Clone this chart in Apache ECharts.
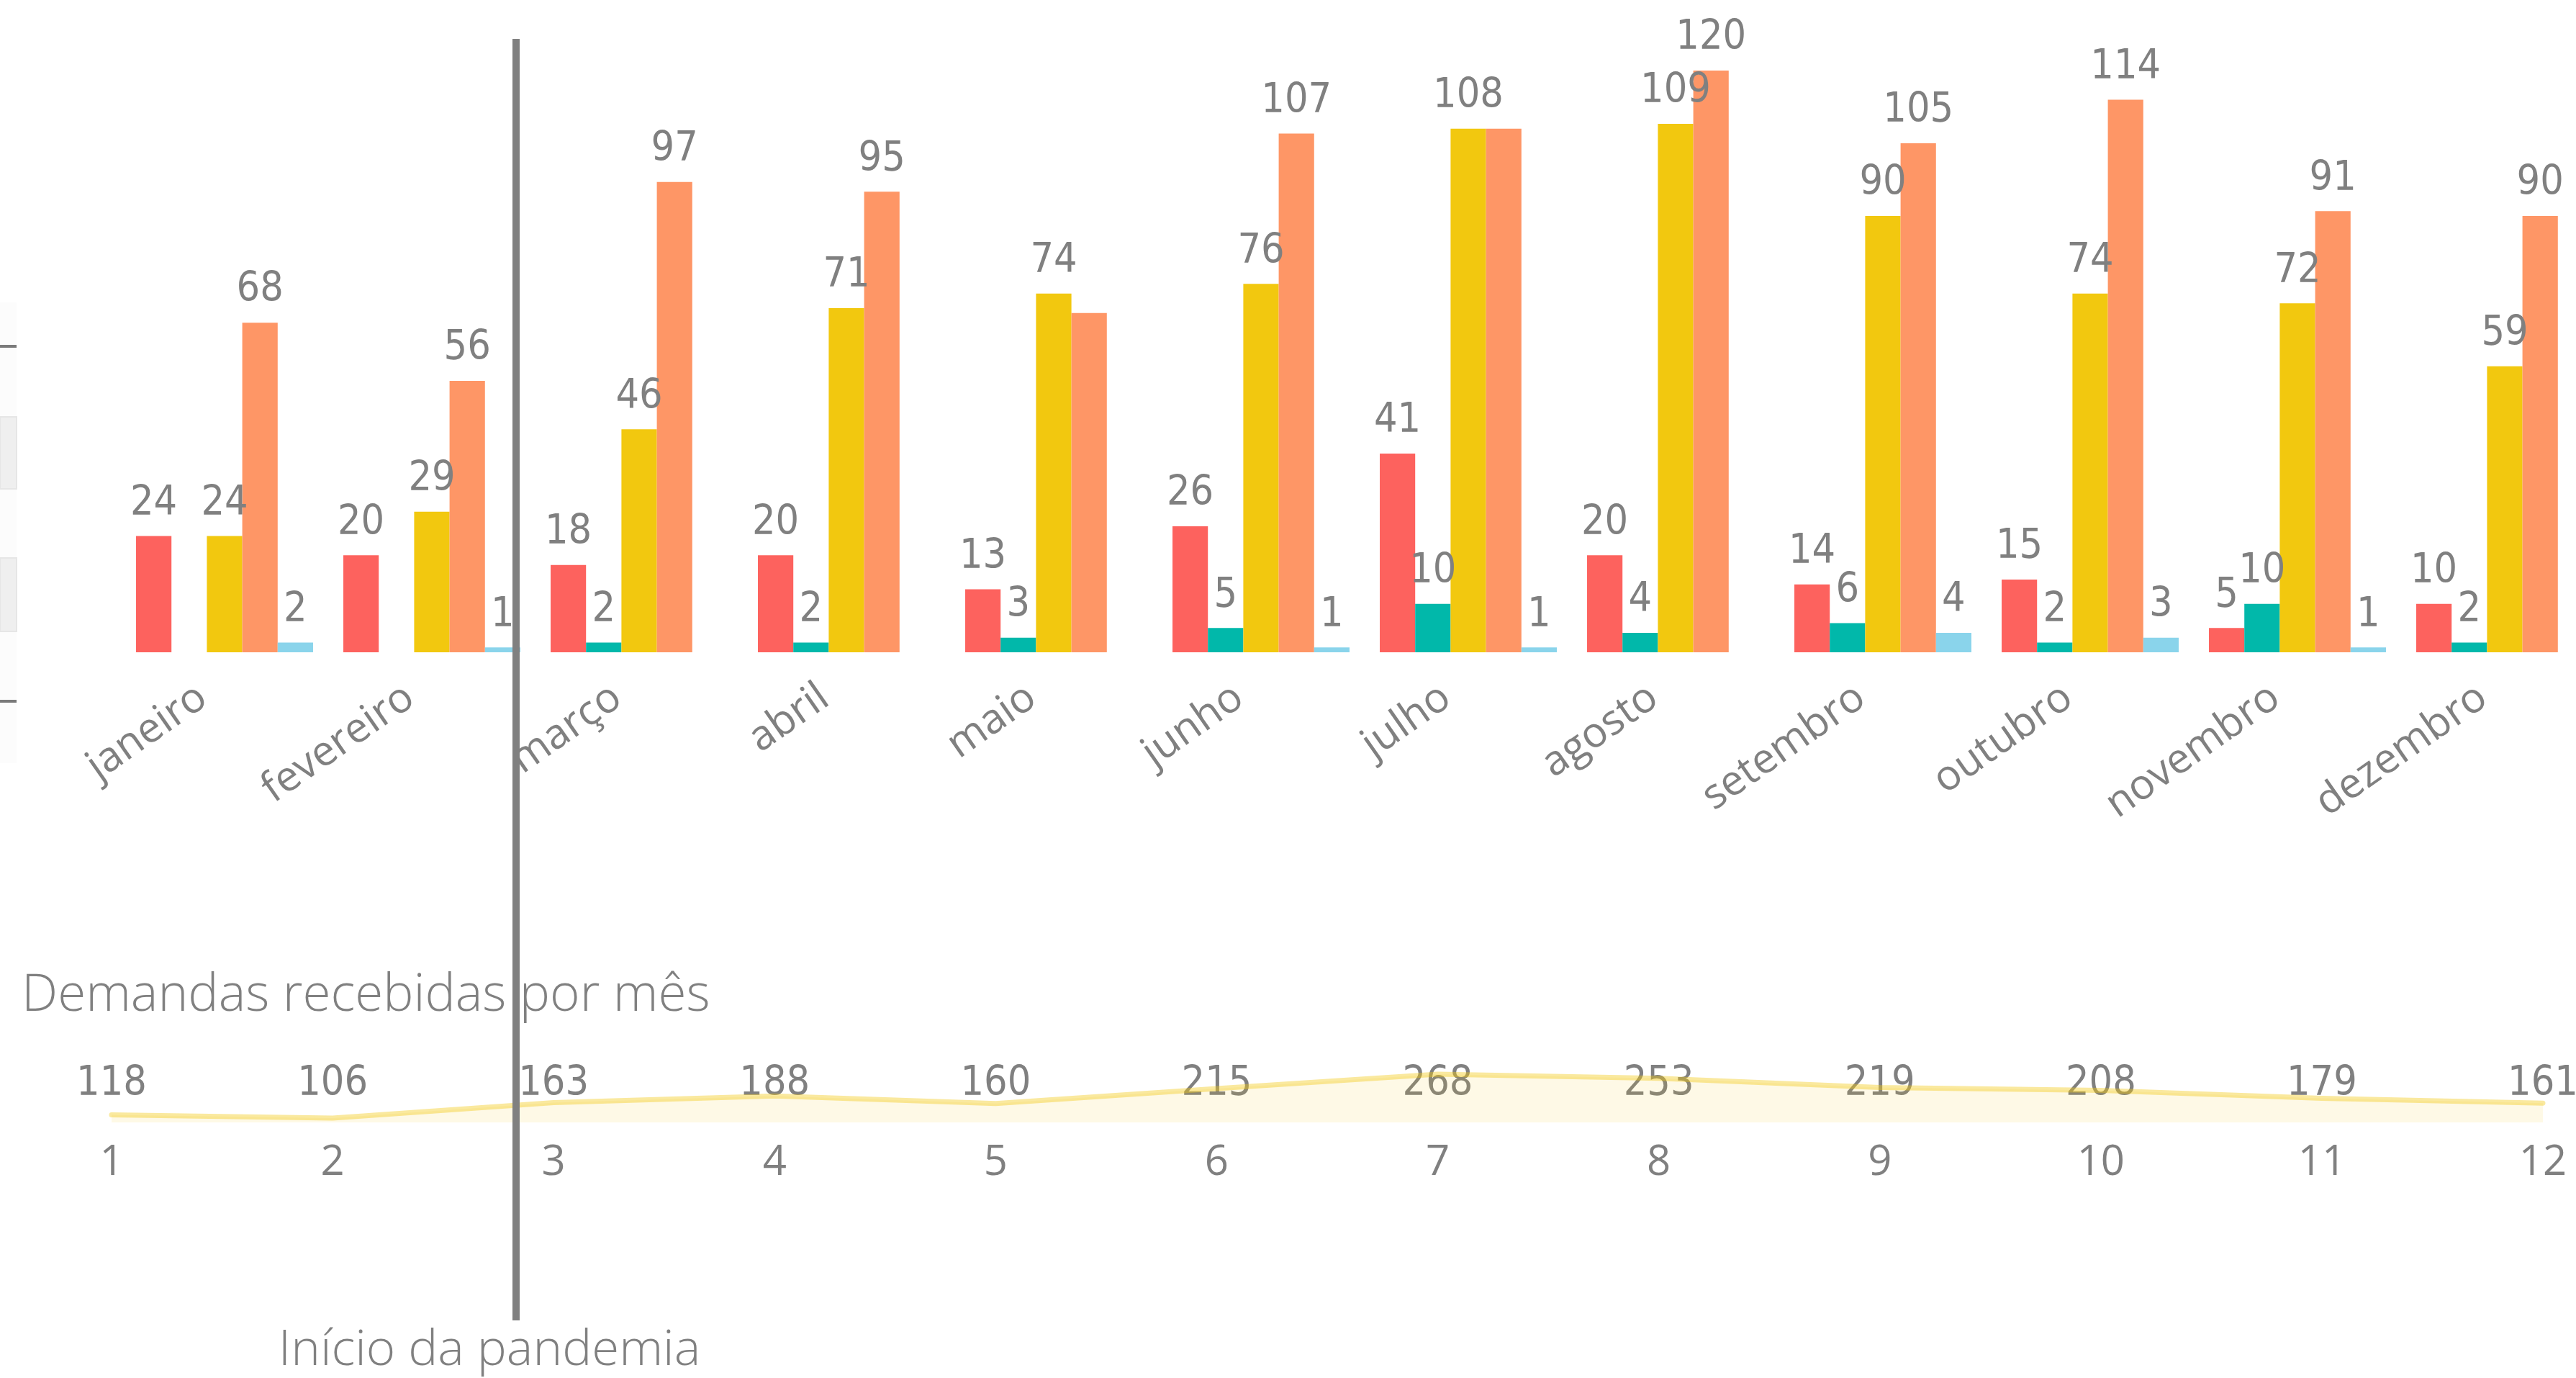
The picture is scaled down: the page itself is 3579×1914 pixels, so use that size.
<!DOCTYPE html>
<html>
<head>
<meta charset="utf-8">
<script src="https://cdn.jsdelivr.net/npm/echarts@6/dist/echarts.min.js"></script>
<style>
html, body { margin: 0; padding: 0; background: #ffffff; }
#chart { width: 3579px; height: 1914px; }
</style>
</head>
<body>
<div id="chart"></div>
<script>
// ---- data ----
const months = ['janeiro', 'fevereiro', 'março', 'abril', 'maio', 'junho', 'julho', 'agosto', 'setembro', 'outubro', 'novembro', 'dezembro'];
const monthNumbers = ['1', '2', '3', '4', '5', '6', '7', '8', '9', '10', '11', '12'];
const seriesRed = [24, 20, 18, 20, 13, 26, 41, 20, 14, 15, 5, 10];
const seriesTeal = [null, null, 2, 2, 3, 5, 10, 4, 6, 2, 10, 2];
const seriesYellow = [24, 29, 46, 71, 74, 76, 108, 109, 90, 74, 72, 59];
const seriesOrange = [68, 56, 97, 95, 70, 107, 108, 120, 105, 114, 91, 90];
const seriesBlue = [2, 1, null, null, null, 1, 1, null, 4, 3, 1, null];
const totals = [118, 106, 163, 188, 160, 215, 268, 253, 219, 208, 179, 161];
// labels that the original hides because they overlap a neighbour (series -> month indices)
const hiddenLabels = { orange: [4, 6] };
const titleText = 'Demandas recebidas por mês';
const markerText = 'Início da pandemia';

// ---- style ----
const GRAY = '#808080';
const NUM_FONT = "'Liberation Sans Narrow', 'DejaVu Sans Condensed', Roboto, sans-serif";
const TXT_FONT = "'Open Sans', 'Noto Sans', sans-serif";

function barLabel(key) {
  const hide = hiddenLabels[key] || [];
  return {
    show: true,
    position: 'top',
    distance: 16,
    color: GRAY,
    fontFamily: NUM_FONT,
    fontSize: 57,
    formatter: function (p) {
      if (p.value == null || hide.indexOf(p.dataIndex) >= 0) return '';
      return String(p.value);
    }
  };
}

function barSeries(name, key, data, color) {
  return {
    name: name,
    type: 'bar',
    xAxisIndex: 0,
    yAxisIndex: 0,
    data: data,
    barGap: '0%',
    barCategoryGap: '14.6%',
    itemStyle: { color: color },
    label: barLabel(key),
    silent: true
  };
}

const chart = echarts.init(document.getElementById('chart'), null, { renderer: 'canvas' });

const option = {
  backgroundColor: '#ffffff',
  animation: false,
  grid: [
    { left: 168, width: 3456, top: 98, height: 808, containLabel: false, outerBoundsMode: 'none' },
    { left: 155, right: 46, top: 1480, bottom: 355, containLabel: false, outerBoundsMode: 'none' }
  ],
  xAxis: [
    {
      gridIndex: 0,
      type: 'category',
      data: months,
      axisLine: { show: false },
      axisTick: { show: false },
      axisLabel: {
        interval: 0,
        rotate: 35,
        margin: 36,
        padding: [0, 37, 0, 0],
        color: GRAY,
        fontFamily: TXT_FONT,
        fontSize: 58
      }
    },
    {
      gridIndex: 1,
      type: 'category',
      data: monthNumbers,
      boundaryGap: false,
      axisLine: { show: false },
      axisTick: { show: false },
      axisLabel: {
        interval: 0,
        margin: 27,
        color: GRAY,
        fontFamily: TXT_FONT,
        fontSize: 58
      }
    },
    {
      gridIndex: 1,
      type: 'category',
      position: 'top',
      data: totals.map(String),
      boundaryGap: false,
      axisLine: { show: false },
      axisTick: { show: false },
      axisLabel: {
        interval: 0,
        margin: -26,
        verticalAlign: 'middle',
        color: GRAY,
        fontFamily: NUM_FONT,
        fontSize: 57
      }
    }
  ],
  yAxis: [
    { gridIndex: 0, type: 'value', min: 0, max: 120, show: false },
    { gridIndex: 1, type: 'value', min: 90, max: 300, show: false }
  ],
  series: [
    barSeries('Série 1', 'red', seriesRed, '#FD625E'),
    barSeries('Série 2', 'teal', seriesTeal, '#01B8AA'),
    barSeries('Série 3', 'yellow', seriesYellow, '#F2C80F'),
    barSeries('Série 4', 'orange', seriesOrange, '#FE9666'),
    barSeries('Série 5', 'blue', seriesBlue, '#8AD4EB'),
    {
      name: 'Demandas recebidas',
      type: 'line',
      xAxisIndex: 1,
      yAxisIndex: 1,
      data: totals,
      symbol: 'none',
      smooth: false,
      lineStyle: { color: 'rgba(242,200,15,0.4)', width: 7, cap: 'round', join: 'round' },
      areaStyle: { color: 'rgba(242,200,15,0.15)' },
      silent: true
    }
  ],
  graphic: [
    // cut-off visual at the left edge
    { type: 'rect', shape: { x: 0, y: 420, width: 23, height: 640 }, style: { fill: '#FCFCFC' }, silent: true },
    { type: 'rect', shape: { x: 0, y: 579, width: 23, height: 100 }, style: { fill: '#EFEFEF', stroke: '#E6E6E6', lineWidth: 2 }, silent: true },
    { type: 'rect', shape: { x: 0, y: 775, width: 23, height: 102 }, style: { fill: '#EFEFEF', stroke: '#E6E6E6', lineWidth: 2 }, silent: true },
    { type: 'line', shape: { x1: 0, y1: 481, x2: 23, y2: 481 }, style: { stroke: '#7A7A7A', lineWidth: 4 }, silent: true },
    { type: 'line', shape: { x1: 0, y1: 974, x2: 23, y2: 974 }, style: { stroke: '#7A7A7A', lineWidth: 4 }, silent: true },
    // title of the lower chart
    {
      type: 'text', left: 30, top: 1348, silent: true,
      style: { text: titleText, fill: GRAY, font: '300 71px ' + TXT_FONT }
    },
    // pandemic marker
    {
      type: 'line', z: 100, silent: true,
      shape: { x1: 717, y1: 54, x2: 717, y2: 1834 },
      style: { stroke: GRAY, lineWidth: 10 }
    },
    {
      type: 'text', z: 100, silent: true,
      x: 680, y: 1876,
      style: { text: markerText, fill: GRAY, font: '300 69px ' + TXT_FONT, align: 'center', verticalAlign: 'middle' }
    }
  ]
};

chart.setOption(option);
</script>
</body>
</html>
